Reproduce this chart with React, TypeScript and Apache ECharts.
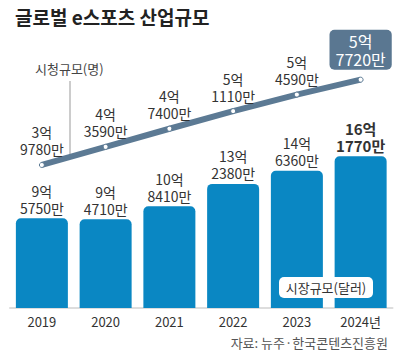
import React, { useEffect, useRef } from "react";
import * as echarts from "echarts";

const years = ["2019", "2020", "2021", "2022", "2023", "2024년"];
// 시장규모 (억 달러)
const marketValues = [9.575, 9.471, 10.841, 13.238, 14.636, 16.177];
const marketLabels = ["9억\n5750만", "9억\n4710만", "10억\n8410만", "13억\n2380만", "14억\n6360만", "16억\n1770만"];
// 시청규모 (억 명)
const viewerValues = [3.978, 4.359, 4.74, 5.111, 5.459, 5.772];
const viewerLabels = ["3억\n9780만", "4억\n3590만", "4억\n7400만", "5억\n1110만", "5억\n4590만", "5억\n7720만"];

const FONT = "'Noto Sans CJK KR', 'Noto Sans', sans-serif";

export default function App() {
  const ref = useRef<HTMLDivElement>(null);
  useEffect(() => {
    document.body.style.margin = "0";
    const chart = echarts.init(ref.current!, null, { renderer: "svg" });
    const lastIdx = years.length - 1;
    chart.setOption({
      animation: false,
      textStyle: { fontFamily: FONT },
      grid: { left: 10, right: 11.5, top: 8, bottom: 52 },
      xAxis: {
        type: "category",
        data: years,
        axisTick: { show: false },
        axisLine: { show: true, lineStyle: { color: "#dddddd", width: 2 } },
        axisLabel: { color: "#333", fontSize: 13, margin: 7, fontFamily: FONT },
      },
      yAxis: [
        { type: "value", min: 0, max: 32, show: false },
        { type: "value", min: 0.97, max: 7.28, show: false },
      ],
      series: [
        {
          type: "bar",
          yAxisIndex: 0,
          barWidth: 52,
          data: marketValues.map((v, i) => ({
            value: v,
            label: {
              formatter: marketLabels[i],
              fontSize: i === lastIdx ? 15 : 14,
              lineHeight: 17,
              fontWeight: i === lastIdx ? "bold" : "normal",
            },
          })),
          itemStyle: { color: "#0a87c3", borderRadius: [5, 5, 0, 0] },
          label: {
            show: true,
            position: "top",
            distance: 2,
            color: "#333",
            fontSize: 14,
            lineHeight: 17,
            fontFamily: FONT,
          },
        },
        {
          type: "line",
          yAxisIndex: 1,
          z: 5,
          data: viewerValues.map((v, i) =>
            i === lastIdx
              ? {
                  value: v,
                  label: {
                    formatter: viewerLabels[i],
                    color: "#fff",
                    backgroundColor: "#5a7791",
                    borderRadius: 5,
                    padding: [2, 6, 2, 6],
                    fontSize: 16,
                    lineHeight: 18,
                    distance: 7,
                  },
                }
              : { value: v, label: { formatter: viewerLabels[i] } }
          ),
          lineStyle: { color: "#5c7a94", width: 6 },
          symbol: "circle",
          symbolSize: 5,
          itemStyle: { color: "#ffffff", borderColor: "#5c7a94", borderWidth: 1 },
          label: {
            show: true,
            position: "top",
            distance: 4,
            color: "#333",
            fontSize: 14,
            lineHeight: 17,
            fontFamily: FONT,
          },
        },
      ],
      graphic: [
        {
          type: "text",
          left: 15,
          top: 7,
          style: { text: "글로벌 e스포츠 산업규모", fontSize: 19, fontWeight: "bold", fill: "#222", fontFamily: FONT },
        },
        {
          type: "text",
          x: 35,
          y: 62,
          style: { text: "시청규모(명)", fontSize: 13, fill: "#444", fontFamily: FONT },
        },
        {
          type: "line",
          shape: { x1: 70, y1: 81, x2: 70, y2: 156 },
          style: { stroke: "#999", lineWidth: 1 },
        },
        {
          type: "rect",
          shape: { x: 279, y: 277, width: 94, height: 21, r: 5 },
          style: { fill: "#ffffff" },
          z: 10,
        },
        {
          type: "text",
          x: 326,
          y: 287.5,
          z: 11,
          style: { text: "시장규모(달러)", fontSize: 13, fill: "#333", align: "center", verticalAlign: "middle", fontFamily: FONT },
        },
        {
          type: "text",
          x: 388,
          y: 342,
          style: { text: "자료: 뉴주·한국콘텐츠진흥원", fontSize: 13, fill: "#555", align: "right", verticalAlign: "middle", fontFamily: FONT },
        },
      ],
    });
    return () => chart.dispose();
  }, []);
  return <div ref={ref} style={{ width: 404, height: 360 }} />;
}
